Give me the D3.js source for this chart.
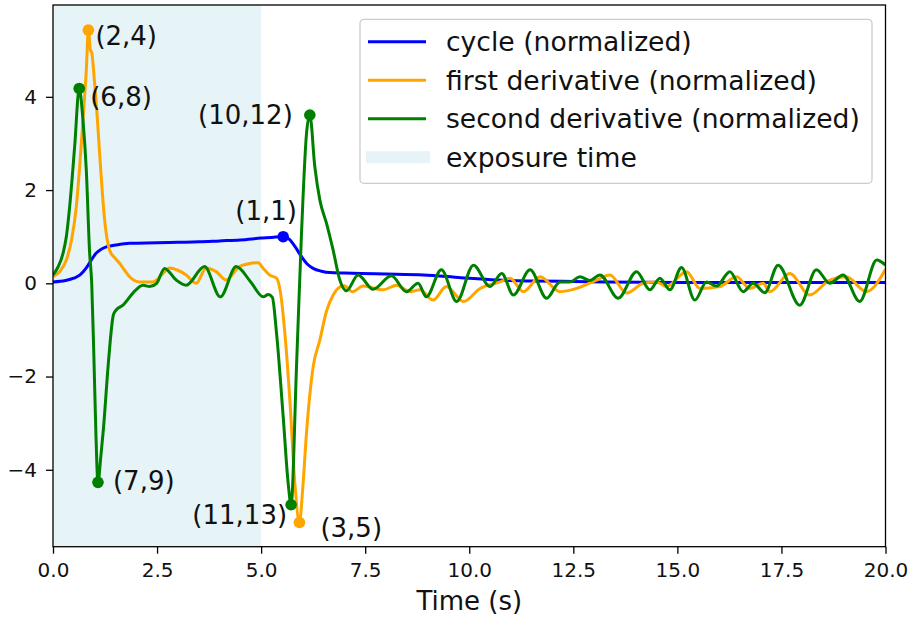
<!DOCTYPE html>
<html>
<head>
<meta charset="utf-8">
<script src="https://cdn.jsdelivr.net/npm/d3@7"></script>
<style>
    body { margin: 0; background: #fff; }
    #chart text { font-family: "DejaVu Sans", sans-serif; fill: #111; }
</style>
</head>
<body>
<div id="chart"></div>
<script>
// ---- data ----
const cycleT = [0, 0.3, 0.5, 0.65, 0.8, 0.92, 1.04, 1.16, 1.28, 1.5, 1.84, 2.5, 3.0, 3.5, 4.0, 4.5, 5.0, 5.3, 5.53,
    5.68, 5.82, 5.97, 6.1, 6.25, 6.45, 6.65, 7.0, 7.4, 8.0, 8.9, 9.8, 10.66, 11.5, 12.5, 13.3, 15, 17.5, 20];
const cycleV = [0.03, 0.06, 0.11, 0.18, 0.33, 0.5, 0.65, 0.73, 0.78, 0.82, 0.86, 0.87, 0.88, 0.89, 0.91, 0.93, 0.97, 0.99, 1.0,
    0.94, 0.78, 0.57, 0.42, 0.32, 0.26, 0.23, 0.22, 0.21, 0.2, 0.18, 0.12, 0.07, 0.05, 0.04, 0.03, 0.02, 0.02, 0.02];

const firstT = [0, 0.16, 0.32, 0.45, 0.56, 0.64, 0.72, 0.8, 0.85, 0.9, 0.93, 1.0, 1.06, 1.12, 1.24, 1.36, 1.48, 1.6, 1.72, 1.84,
    2.08, 2.4, 2.64, 2.8, 3.0, 3.2, 3.44, 3.68, 3.92, 4.16, 4.48, 4.7, 4.93, 5.05, 5.2, 5.37, 5.49, 5.57, 5.69, 5.81, 5.92,
    6.0, 6.09, 6.25, 6.41, 6.57, 6.73, 6.89, 7.0, 7.2, 7.45, 7.93, 8.26, 8.58, 8.82, 9.13, 9.45, 9.86, 10.26, 10.74, 10.98,
    11.3, 11.7, 12.18, 12.58, 13.06, 13.38, 13.78, 14.18, 14.5, 14.74, 15.22, 15.54, 16.02, 16.42, 16.74, 17.06, 17.22,
    17.7, 18.18, 18.66, 19.06, 19.54, 20];
const firstV = [0.14, 0.25, 0.5, 0.95, 1.64, 2.5, 3.5, 4.57, 5.43, 5.0, 4.95, 4.29, 3.6, 2.79, 1.36, 0.71, 0.55, 0.43, 0.28, 0.14,
    0.03, 0.03, 0.21, 0.33, 0.28, 0.18, 0.0, 0.33, 0.25, 0.07, 0.36, 0.42, 0.44, 0.32, 0.18, 0.11, -0.36, -1.07, -2.5, -4.28, -5.13,
    -4.4, -3.21, -1.79, -1.22, -0.6, -0.25, -0.08, -0.05, -0.18, -0.06, -0.14, -0.04, -0.18, -0.14, -0.36, -0.07, -0.39, -0.11, 0.03, 0.11,
    -0.18, 0.14, -0.18, -0.11, 0.07, 0.18, -0.21, 0.0, 0.03, -0.07, 0.25, -0.11, -0.07, 0.14, -0.11, 0.0, -0.18,
    0.21, -0.25, 0.07, 0.14, -0.18, 0.3];

const secondT = [0, 0.12, 0.24, 0.32, 0.4, 0.52, 0.63, 0.72, 0.8, 0.88, 0.93, 0.98, 1.03, 1.08, 1.15, 1.21, 1.33, 1.45, 1.52,
    1.68, 1.92, 2.16, 2.32, 2.49, 2.68, 2.96, 3.2, 3.64, 4.02, 4.4, 4.75, 5.05, 5.17, 5.27, 5.37, 5.53, 5.65, 5.72, 5.85, 5.97,
    6.09, 6.17, 6.29, 6.41, 6.57, 6.73, 6.89, 7.05, 7.33, 7.69, 8.13, 8.49, 8.77, 8.97, 9.33, 9.7, 10.1, 10.5, 10.78, 11.06,
    11.46, 11.86, 12.18, 12.42, 12.66, 12.9, 13.14, 13.58, 14.02, 14.34, 14.58, 14.82, 15.1, 15.42, 15.7, 15.94, 16.26,
    16.58, 16.82, 17.1, 17.42, 17.94, 18.34, 18.66, 18.98, 19.38, 19.79, 20];
const secondV = [0.18, 0.35, 0.64, 1.0, 1.64, 2.93, 4.18, 3.5, 2.43, 0.65, 0.0, -1.5, -3.2, -4.27, -3.7, -3.14, -1.71, -0.68, -0.57,
    -0.47, -0.21, -0.04, -0.07, 0.0, 0.32, 0.07, -0.04, 0.36, -0.29, 0.36, 0.03, -0.29, -0.24, -0.3, -1.07, -2.86, -4.29, -4.75, -1.79, 1.07,
    3.21, 3.61, 2.5, 1.79, 1.29, 0.71, 0.07, -0.16, 0.18, -0.13, 0.16, -0.18, 0.0, -0.29, 0.29, -0.39, 0.39, -0.07, 0.21, -0.25,
    0.29, -0.32, 0.03, 0.03, 0.14, 0.06, 0.18, -0.32, 0.25, -0.14, 0.11, -0.14, 0.34, -0.36, 0.03, -0.06, 0.25,
    -0.18, 0.0, -0.2, 0.39, -0.47, 0.29, 0.0, 0.18, -0.39, 0.5, 0.39];

const exposure = [0, 5];

const xTicks = [0, 2.5, 5, 7.5, 10, 12.5, 15, 17.5, 20];
const yTicks = [-4, -2, 0, 2, 4];

const legendLabels = ["cycle (normalized)", "first derivative (normalized)", "second derivative (normalized)", "exposure time"];

// annotated extrema: label, series, time, value
const annotLabels = ["(1,1)", "(2,4)", "(3,5)", "(6,8)", "(7,9)", "(10,12)", "(11,13)"];
const annotSeries = ["cycle", "first", "first", "second", "second", "second", "second"];
const annotT = [5.53, 0.85, 5.92, 0.63, 1.08, 6.17, 5.72];
const annotV = [1.0, 5.43, -5.13, 4.18, -4.27, 3.61, -4.75];

// ---- drawing ----
const W = 911, H = 617;
const margin = {top: 5, right: 25.5, bottom: 70.3, left: 53};
const width = W - margin.left - margin.right;
const height = H - margin.top - margin.bottom;

const colors = {cycle: "blue", first: "orange", second: "green"};

const svg = d3.select("#chart").append("svg")
    .attr("width", W)
    .attr("height", H);

const g = svg.append("g")
    .attr("transform", `translate(${margin.left}, ${margin.top})`);

const x = d3.scaleLinear().domain([0, 20]).range([0, width]);
const y = d3.scaleLinear().domain([-5.65, 5.97]).range([height, 0]);

g.append("clipPath").attr("id", "plot-clip")
    .append("rect").attr("width", width).attr("height", height);

// exposure shading
g.append("rect")
    .attr("x", x(exposure[0]))
    .attr("y", 0)
    .attr("width", x(exposure[1]) - x(exposure[0]))
    .attr("height", height)
    .attr("fill", "lightblue")
    .attr("fill-opacity", 0.3);

const line = d3.line()
    .x(d => x(d[0]))
    .y(d => y(d[1]))
    .curve(d3.curveMonotoneX);

const series = [
    {key: "cycle", data: d3.zip(cycleT, cycleV)},
    {key: "first", data: d3.zip(firstT, firstV)},
    {key: "second", data: d3.zip(secondT, secondV)}
];

const lines = g.append("g").attr("clip-path", "url(#plot-clip)");
series.forEach(s => {
    lines.append("path")
        .datum(s.data)
        .attr("d", line)
        .attr("fill", "none")
        .attr("stroke", colors[s.key])
        .attr("stroke-width", 3)
        .attr("stroke-linejoin", "round");
});

// markers + labels
const annots = annotLabels.map((l, i) => ({label: l, key: annotSeries[i], t: annotT[i], v: annotV[i]}));
const placement = {
    "(1,1)": {dx: -17, dy: -17, anchor: "middle"},
    "(2,4)": {dx: 7, dy: 15, anchor: "start"},
    "(3,5)": {dx: 21, dy: 15, anchor: "start"},
    "(6,8)": {dx: 11, dy: 18, anchor: "start"},
    "(7,9)": {dx: 15, dy: 8, anchor: "start"},
    "(10,12)": {dx: -17, dy: 9, anchor: "end"},
    "(11,13)": {dx: -4, dy: 19, anchor: "end"}
};

g.selectAll("circle.mark")
    .data(annots)
    .enter()
    .append("circle")
    .attr("class", "mark")
    .attr("cx", d => x(d.t))
    .attr("cy", d => y(d.v))
    .attr("r", 5.8)
    .attr("fill", d => colors[d.key]);

g.selectAll("text.annot")
    .data(annots)
    .enter()
    .append("text")
    .attr("class", "annot")
    .attr("x", d => x(d.t) + placement[d.label].dx)
    .attr("y", d => y(d.v) + placement[d.label].dy)
    .attr("text-anchor", d => placement[d.label].anchor)
    .style("font-size", "26px")
    .text(d => d.label);

// axes
const xAxis = g.append("g")
    .attr("transform", `translate(0, ${height})`)
    .call(d3.axisBottom(x).tickValues(xTicks).tickFormat(d3.format(".1f")).tickSize(7).tickPadding(9));
const yAxis = g.append("g")
    .call(d3.axisLeft(y).tickValues(yTicks).tickFormat(d3.format("d")).tickSize(7).tickPadding(9));

[xAxis, yAxis].forEach(a => {
    a.select(".domain").remove();
    a.selectAll(".tick line").attr("stroke", "#000").attr("stroke-width", 1.3);
    a.selectAll(".tick text").style("font-size", "20px");
});

// frame
g.append("rect")
    .attr("width", width)
    .attr("height", height)
    .attr("fill", "none")
    .attr("stroke", "#000")
    .attr("stroke-width", 1.3);

g.append("text")
    .attr("x", width / 2)
    .attr("y", height + 63)
    .attr("text-anchor", "middle")
    .style("font-size", "26px")
    .text("Time (s)");

// legend
const legend = svg.append("g").attr("transform", "translate(360, 19.3)");
legend.append("rect")
    .attr("width", 512)
    .attr("height", 164)
    .attr("rx", 4)
    .attr("fill", "#fff")
    .attr("fill-opacity", 0.8)
    .attr("stroke", "#cccccc")
    .attr("stroke-width", 1.3);

const legendKeys = ["cycle", "first", "second", "exposure"];
legendLabels.forEach((lab, i) => {
    const cy = 22.4 + i * 38.5;
    if (legendKeys[i] === "exposure") {
        legend.append("rect")
            .attr("x", 6).attr("y", cy - 6)
            .attr("width", 64).attr("height", 12)
            .attr("fill", "lightblue").attr("fill-opacity", 0.3);
    } else {
        legend.append("line")
            .attr("x1", 8).attr("x2", 66)
            .attr("y1", cy).attr("y2", cy)
            .attr("stroke", colors[legendKeys[i]])
            .attr("stroke-width", 3);
    }
    legend.append("text")
        .attr("x", 86)
        .attr("y", cy)
        .attr("dy", "0.35em")
        .style("font-size", "26.6px")
        .text(lab);
});
</script>
</body>
</html>
